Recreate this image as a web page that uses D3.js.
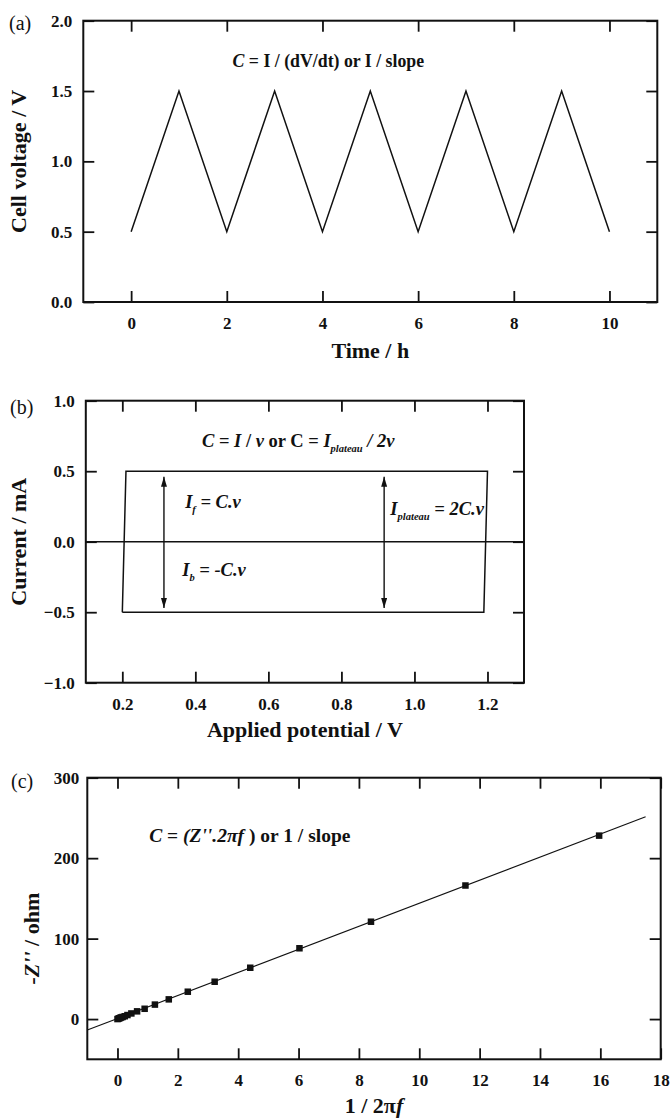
<!DOCTYPE html>
<html><head><meta charset="utf-8">
<script src="https://cdn.jsdelivr.net/npm/d3@7"></script>
<style>
body{margin:0;background:#fff;}
svg text{font-family:"Liberation Serif","Times New Roman",serif;fill:#111;}
</style></head><body><svg id="c" width="671" height="1118"></svg>
<script>
// ---- data ----
const timeH = [0,1,2,3,4,5,6,7,8,9,10];
const cellV = [0.5,1.5,0.5,1.5,0.5,1.5,0.5,1.5,0.5,1.5,0.5];
const timeTicks = [0,2,4,6,8,10];
const voltTicks = [0,0.5,1,1.5,2];

const cvPotential = [0.20,0.21,1.20,1.19,0.20];
const cvCurrent   = [-0.5,0.5,0.5,-0.5,-0.5];
const potTicks = [0.2,0.4,0.6,0.8,1.0,1.2];
const currTicks = [-1,-0.5,0,0.5,1];
const arrowX = [0.314, 0.917];
const arrowY = [0.46, -0.47];

const invOmega = [0.0,0.03,0.06,0.09,0.12,0.17,0.24,0.33,0.46,0.65,0.90,1.24,1.70,2.33,3.22,4.40,6.03,8.40,11.53,15.96];
const zImag    = [0.0,0.5,1.0,1.5,2.0,2.6,3.5,5.0,7.0,9.6,12.8,18.0,24.5,34.0,46.4,63.8,88.0,121.0,166.0,228.0];
const fitX = [-1, 17.5];
const fitY = [-13.7, 251.5];
const invTicks = [0,2,4,6,8,10,12,14,16,18];
const zTicks = [0,100,200,300];

// ---- drawing ----
const svg = d3.select("#c");
svg.append("rect").attr("width",671).attr("height",1118).attr("fill","#fff");
const INK = "#111";

function frame(x, y, xt, yt, xfmt, yfmt, ypad){
  const g = svg.append("g");
  const [x0,x1] = x.range(), [y0,y1] = y.range();
  const styl = s => {
    s.select(".domain").remove();
    s.selectAll(".tick line").attr("stroke",INK).attr("stroke-width",1.8);
    s.selectAll(".tick text").attr("font-size",17).attr("font-weight","bold")
      .attr("font-family","Liberation Serif, serif").attr("fill",INK);
  };
  g.append("g").attr("transform",`translate(0,${y0})`)
    .call(d3.axisBottom(x).tickValues(xt).tickSizeInner(-11).tickSizeOuter(0).tickPadding(15).tickFormat(xfmt)).call(styl);
  g.append("g").attr("transform",`translate(0,${y1})`)
    .call(d3.axisTop(x).tickValues(xt).tickSizeInner(-11).tickSizeOuter(0).tickFormat("")).call(styl);
  g.append("g").attr("transform",`translate(${x0},0)`)
    .call(d3.axisLeft(y).tickValues(yt).tickSizeInner(-11).tickSizeOuter(0).tickPadding(ypad).tickFormat(yfmt)).call(styl);
  g.append("g").attr("transform",`translate(${x1},0)`)
    .call(d3.axisRight(y).tickValues(yt).tickSizeInner(-11).tickSizeOuter(0).tickFormat("")).call(styl);
  g.append("rect").attr("x",x0).attr("y",y1).attr("width",x1-x0).attr("height",y0-y1)
    .attr("fill","none").attr("stroke",INK).attr("stroke-width",2);
  return g;
}
function txt(x,y,size,parts,anchor){
  const t = svg.append("text").attr("x",x).attr("y",y).attr("font-size",size)
    .attr("font-weight","bold").attr("text-anchor",anchor||"start");
  parts.forEach(p=>{
    const s = t.append("tspan").text(p.t);
    if(p.i) s.attr("font-style","italic");
    if(p.w) s.attr("font-weight",p.w);
    if(p.s) s.attr("font-size",p.s);
    if(p.dy) s.attr("dy",p.dy);
  });
  return t;
}
function panelLabel(x,y,s){
  svg.append("text").attr("x",x).attr("y",y).attr("font-size",20).text(s);
}

// Panel (a)
const xa = d3.scaleLinear().domain([-1,11]).range([83.3,657.3]);
const ya = d3.scaleLinear().domain([0,2]).range([302,20.7]);
frame(xa, ya, timeTicks, voltTicks, d3.format("d"), d3.format(".1f"), 11);
svg.append("path").datum(timeH.map((t,i)=>[t,cellV[i]]))
  .attr("d", d3.line().x(d=>xa(d[0])).y(d=>ya(d[1])))
  .attr("fill","none").attr("stroke",INK).attr("stroke-width",1.5).attr("stroke-linejoin","miter");
txt(xa(2.12), ya(1.672), 17.8, [{t:"C",i:1},{t:" = I / (dV/dt) or I / slope"}]);
panelLabel(9,30,"(a)");
txt(xa(5), 358, 22, [{t:"Time / h"}], "middle");
txt(0,0,22,[{t:"Cell voltage / V"}],"middle").attr("transform",`translate(26,${ya(1)}) rotate(-90)`);

// Panel (b)
const xb = d3.scaleLinear().domain([0.1,1.3]).range([85.8,524]);
const yb = d3.scaleLinear().domain([-1,1]).range([682.7,400.7]);
frame(xb, yb, potTicks, currTicks, d3.format(".1f"), d3.format(".1f"), 11);
svg.append("line").attr("x1",xb(0.1)).attr("x2",xb(1.3)).attr("y1",yb(0)).attr("y2",yb(0))
  .attr("stroke",INK).attr("stroke-width",1.6);
svg.append("path").datum(cvPotential.map((v,i)=>[v,cvCurrent[i]]))
  .attr("d", d3.line().x(d=>xb(d[0])).y(d=>yb(d[1])))
  .attr("fill","none").attr("stroke",INK).attr("stroke-width",1.5);
const defs = svg.append("defs");
defs.append("marker").attr("id","ah").attr("markerUnits","userSpaceOnUse")
  .attr("markerWidth",11).attr("markerHeight",7).attr("refX",10).attr("refY",3)
  .attr("orient","auto-start-reverse")
  .append("path").attr("d","M0,0 L10,3 L0,6 Z").attr("fill",INK);
arrowX.forEach(ax=>{
  svg.append("line").attr("x1",xb(ax)).attr("x2",xb(ax)).attr("y1",yb(arrowY[0])).attr("y2",yb(arrowY[1]))
    .attr("stroke",INK).attr("stroke-width",1.4)
    .attr("marker-start","url(#ah)").attr("marker-end","url(#ah)");
});
txt(xb(0.418), yb(0.675), 18.5, [{t:"C",i:1},{t:" = "},{t:"I",i:1},{t:" / "},{t:"ν",i:1},{t:" or C = "},
  {t:"I",i:1},{t:"plateau",i:1,s:10.5,dy:5},{t:" / 2",i:1,dy:-5},{t:"ν",i:1}]);
txt(xb(0.372), yb(0.236), 18.5, [{t:"I",i:1},{t:"f",i:1,s:10.5,dy:5},{t:" = C.",i:1,dy:-5},{t:"ν",i:1}]);
txt(xb(0.364), yb(-0.24), 18.5, [{t:"I",i:1},{t:"b",i:1,s:10.5,dy:5},{t:" = -C.",i:1,dy:-5},{t:"ν",i:1}]);
txt(xb(0.934), yb(0.187), 18.5, [{t:"I",i:1},{t:"plateau",i:1,s:10.5,dy:5},{t:" = 2C.",i:1,dy:-5},{t:"ν",i:1}]);
panelLabel(10,414,"(b)");
txt(xb(0.7), 737, 22, [{t:"Applied potential / V"}], "middle");
txt(0,0,22,[{t:"Current / mA"}],"middle").attr("transform",`translate(26,${yb(0)}) rotate(-90)`);

// Panel (c)
const xc = d3.scaleLinear().domain([-1,18]).range([87.3,660.7]);
const yc = d3.scaleLinear().domain([-50,300]).range([1059.3,777.7]);
frame(xc, yc, invTicks, zTicks, d3.format("d"), d3.format("d"), 8);
svg.append("path").datum(fitX.map((v,i)=>[v,fitY[i]]))
  .attr("d", d3.line().x(d=>xc(d[0])).y(d=>yc(d[1])))
  .attr("fill","none").attr("stroke",INK).attr("stroke-width",1.1);
const ms = 6.5;
svg.append("g").selectAll("rect").data(invOmega.map((v,i)=>[v,zImag[i]])).join("rect")
  .attr("x",d=>xc(d[0])-ms/2).attr("y",d=>yc(d[1])-ms/2).attr("width",ms).attr("height",ms).attr("fill",INK);
txt(xc(1.05), yc(220), 19.5, [{t:"C",i:1},{t:" = "},{t:"(Z''.2",i:1},{t:"π",i:1},{t:"f",i:1},{t:" ) or 1 / slope"}]);
panelLabel(11,788,"(c)");
txt(xc(8.5), 1113, 22, [{t:"1 / 2π"},{t:"f",i:1}], "middle");
txt(0,0,22,[{t:"-Z''",i:1},{t:" / ohm"}],"middle").attr("transform",`translate(39,${yc(100)}) rotate(-90)`);
</script></body></html>
